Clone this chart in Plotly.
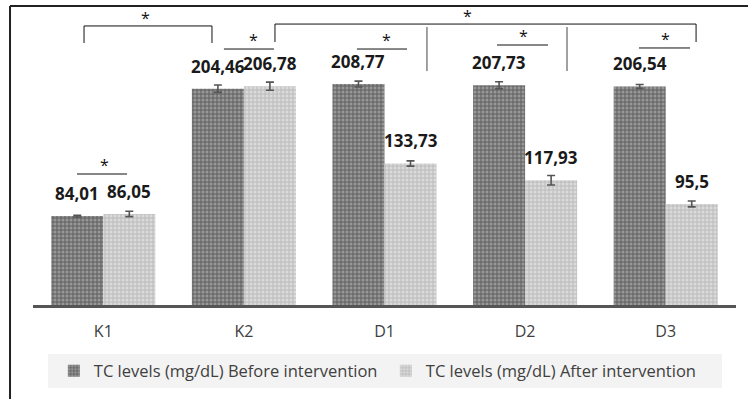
import plotly.graph_objects as go

categories = ["K1", "K2", "D1", "D2", "D3"]
before_vals = [84.01, 204.46, 208.77, 207.73, 206.54]
after_vals = [86.05, 206.78, 133.73, 117.93, 95.5]
before_err = [0.8, 3.5, 2.8, 3.3, 1.8]
after_err = [2.5, 3.8, 2.5, 4.5, 2.8]
before_labels = ["84,01", "204,46", "208,77", "207,73", "206,54"]
after_labels = ["86,05", "206,78", "133,73", "117,93", "95,5"]
series_names = ["TC levels (mg/dL) Before intervention",
                "TC levels (mg/dL) After intervention"]

xs = list(range(len(categories)))
OFF = 0.185
FONT = "Open Sans"

fig = go.Figure()
fig.add_trace(go.Bar(
    x=xs, y=before_vals, name=series_names[0],
    marker=dict(color="#8a8a8a",
                pattern=dict(shape=".", bgcolor="#6c6c6c", fgcolor="#c4c4c4",
                             size=4, solidity=0.45, fillmode="overlay"),
                line=dict(width=0)),
    error_y=dict(type="data", array=before_err, color="#555555", thickness=1.6, width=4),
))
fig.add_trace(go.Bar(
    x=xs, y=after_vals, name=series_names[1],
    marker=dict(color="#d2d2d2",
                pattern=dict(shape=".", bgcolor="#c2c2c2", fgcolor="#f2f2f2",
                             size=4, solidity=0.45, fillmode="overlay"),
                line=dict(width=0)),
    error_y=dict(type="data", array=after_err, color="#555555", thickness=1.6, width=4),
))

annotations = []
for i in xs:
    annotations.append(dict(x=i - OFF, y=before_vals[i], xref="x", yref="y",
                            text="<b>%s</b>" % before_labels[i], showarrow=False,
                            yanchor="bottom", yshift=9,
                            font=dict(family=FONT, size=17, color="#1a1a1a")))
    annotations.append(dict(x=i + OFF, y=after_vals[i], xref="x", yref="y",
                            text="<b>%s</b>" % after_labels[i], showarrow=False,
                            yanchor="bottom", yshift=9,
                            font=dict(family=FONT, size=17, color="#1a1a1a")))

# significance markers: (x0, x1, y_line, star_x)
sig_lines = [(-0.187, 0.169, 123.8, 0.005),
             (0.858, 1.214, 241.9, 1.065),
             (1.804, 2.160, 241.9, 2.011),
             (2.800, 3.163, 245.7, 2.992),
             (3.810, 4.173, 242.9, 4.002)]
shapes = []
line_style = dict(color="#111111", width=1)
for x0, x1, yl, sx in sig_lines:
    shapes.append(dict(type="line", xref="x", yref="y", x0=x0, x1=x1, y0=yl, y1=yl, line=line_style))
    annotations.append(dict(x=sx, y=yl, xref="x", yref="y", text="*", showarrow=False,
                            yanchor="bottom", yshift=-4,
                            font=dict(family=FONT, size=16, color="#111111")))

# brackets: (x0, x1, y_top, y_bottom, star_x)
brackets = [(-0.137, 0.773, 263.7, 247.6, 0.297),
            (1.221, 4.216, 265.5, 248.5, 2.587)]
for x0, x1, yt, yb, sx in brackets:
    shapes.append(dict(type="path", xref="x", yref="y",
                       path="M %f,%f L %f,%f L %f,%f L %f,%f" % (x0, yb, x0, yt, x1, yt, x1, yb),
                       line=line_style))
    annotations.append(dict(x=sx, y=yt, xref="x", yref="y", text="*", showarrow=False,
                            yanchor="bottom", yshift=-5,
                            font=dict(family=FONT, size=16, color="#111111")))

for sxp in [2.302, 3.298]:
    shapes.append(dict(type="line", xref="x", yref="y", x0=sxp, x1=sxp, y0=221.1, y1=262.7,
                       line=dict(color="#444444", width=1)))

# legend background box
shapes.append(dict(type="rect", xref="paper", yref="paper", x0=0.0213, x1=0.980,
                   y0=-0.285, y1=-0.168, fillcolor="#f3f3f3", line=dict(width=0), layer="below"))
# outer frame (left & top)
shapes.append(dict(type="line", xref="paper", yref="paper", x0=-0.0327, x1=-0.0327,
                   y0=-0.33, y1=1.0275, line=dict(color="#222222", width=2)))
shapes.append(dict(type="line", xref="paper", yref="paper", x0=-0.0327, x1=1.03,
                   y0=1.0275, y1=1.0275, line=dict(color="#222222", width=2)))

fig.update_layout(
    width=748, height=399,
    margin=dict(l=33, r=12, t=14, b=94, autoexpand=False),
    paper_bgcolor="white", plot_bgcolor="white",
    barmode="group", bargap=0.26, bargroupgap=0,
    font=dict(family=FONT, color="#404040"),
    xaxis=dict(range=[-0.5, 4.5], tickvals=xs, ticktext=categories,
               showline=True, linecolor="#555555", linewidth=2.5,
               showgrid=False, zeroline=False, ticks="", automargin=False,
               tickfont=dict(family=FONT, size=16, color="#404040"),
               ticklabelstandoff=10),
    yaxis=dict(range=[0, 275], visible=False, showgrid=False, zeroline=False),
    showlegend=True,
    legend=dict(orientation="h", xref="container", yref="container",
                x=0.072, xanchor="left", y=0.070, yanchor="middle",
                bgcolor="rgba(0,0,0,0)", font=dict(family=FONT, size=16.5, color="#404040"),
                itemwidth=30, entrywidth=287, traceorder="normal"),
    shapes=shapes,
    annotations=annotations,
)

fig.write_html("out.html", config={"displayModeBar": False},
               post_script="document.body.style.margin='0';document.body.style.overflow='hidden';")
